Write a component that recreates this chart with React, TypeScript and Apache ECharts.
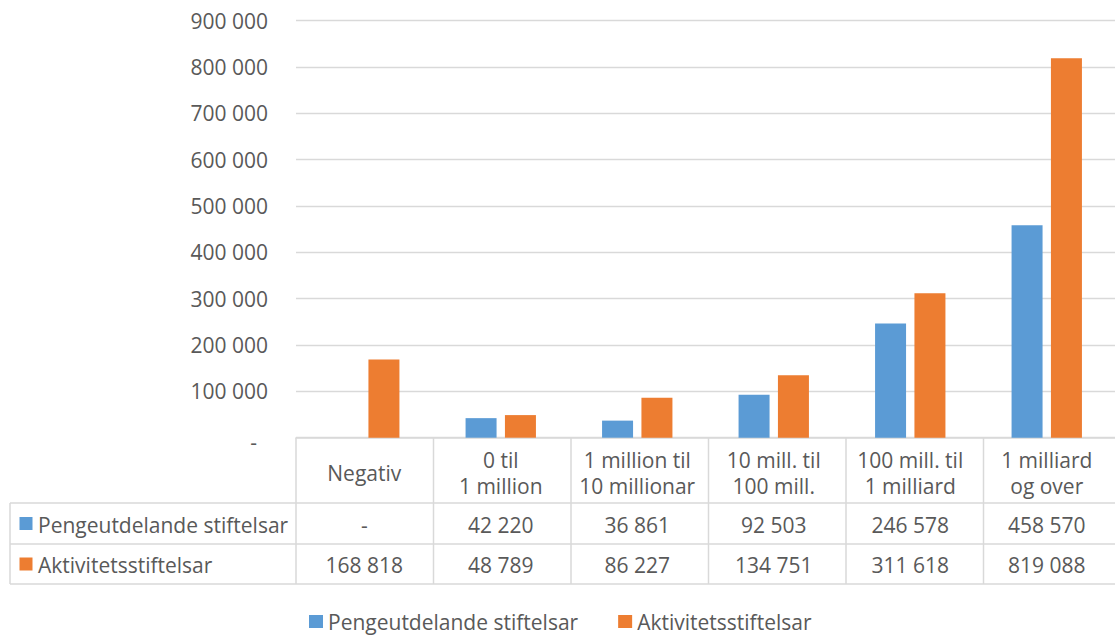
import React, { useEffect, useRef } from "react";
import * as echarts from "echarts";

const categories = [
  "Negativ",
  "0 til\n1 million",
  "1 million til\n10 millionar",
  "10 mill. til\n100 mill.",
  "100 mill. til\n1 milliard",
  "1 milliard\nog over",
];
const seriesNames = ["Pengeutdelande stiftelsar", "Aktivitetsstiftelsar"];
const pengeutdelande = [0, 42220, 36861, 92503, 246578, 458570];
const aktivitets = [168818, 48789, 86227, 134751, 311618, 819088];
const yTicks = { min: 0, max: 900000, interval: 100000 };

const BLUE = "#5b9bd5";
const ORANGE = "#ed7d31";
const TEXT = "#595959";
const LINE = "#d9d9d9";
const FONT = "'Open Sans', Lato, sans-serif";
const FS = 21;

const GRID_LEFT = 296;
const GRID_TOP = 20.7;
const GRID_W = 825;
const GRID_H = 417;
const AXIS_Y = GRID_TOP + GRID_H;
const ROW1_Y = 503;
const ROW2_Y = 544;
const TABLE_BOTTOM = 584;
const TABLE_LEFT = 10;

const fmt = (v: number | null) =>
  v === 0 || v == null ? "-" : String(v).replace(/\B(?=(\d{3})+(?!\d))/g, " ");

export default function App() {
  const ref = useRef<HTMLDivElement>(null);
  useEffect(() => {
    if (!ref.current) return;
    const chart = echarts.init(ref.current, undefined, { renderer: "svg" });
    const n = categories.length;
    const colW = GRID_W / n;
    const lineStyle = { stroke: LINE, lineWidth: 1.5 };
    const graphics: any[] = [];
    [ROW1_Y, ROW2_Y, TABLE_BOTTOM].forEach((y) =>
      graphics.push({ type: "line", shape: { x1: TABLE_LEFT, y1: y, x2: GRID_LEFT + GRID_W, y2: y }, style: lineStyle, silent: true })
    );
    graphics.push({ type: "line", shape: { x1: TABLE_LEFT, y1: ROW1_Y, x2: TABLE_LEFT, y2: TABLE_BOTTOM }, style: lineStyle, silent: true });
    for (let i = 0; i <= n; i++) {
      const x = GRID_LEFT + i * colW;
      graphics.push({ type: "line", shape: { x1: x, y1: AXIS_Y, x2: x, y2: TABLE_BOTTOM }, style: lineStyle, silent: true });
    }
    const rowCenters = [(ROW1_Y + ROW2_Y) / 2 + 1, (ROW2_Y + TABLE_BOTTOM) / 2 + 1];
    const rowColors = [BLUE, ORANGE];
    seriesNames.forEach((name, i) => {
      graphics.push({ type: "rect", shape: { x: 19.5, y: rowCenters[i] - 7.5, width: 13, height: 13 }, style: { fill: rowColors[i] }, silent: true });
      graphics.push({
        type: "text",
        x: 38,
        y: rowCenters[i],
        style: { text: name, fill: TEXT, font: `${FS}px ${FONT}`, verticalAlign: "middle", align: "left" },
        silent: true,
      });
    });

    const rowAxis = (values: number[], margin: number) => ({
      type: "category",
      data: categories,
      position: "bottom",
      gridIndex: 0,
      axisLine: { show: false },
      axisTick: { show: false },
      splitLine: { show: false },
      axisLabel: {
        interval: 0,
        margin,
        verticalAlign: "middle",
        color: TEXT,
        fontSize: FS,
        fontFamily: FONT,
        formatter: (_v: string, idx: number) => fmt(values[idx]),
      },
    });

    chart.setOption({
      animation: false,
      textStyle: { fontFamily: FONT },
      grid: { left: GRID_LEFT, top: GRID_TOP, width: GRID_W, height: GRID_H, containLabel: false },
      legend: {
        data: seriesNames,
        left: 309,
        top: 611,
        padding: 0,
        icon: "rect",
        itemWidth: 14,
        itemHeight: 13,
        itemGap: 40,
        textStyle: { color: TEXT, fontSize: FS, fontFamily: FONT, padding: [2, 0, 0, 0] },
        selectedMode: false,
      },
      xAxis: [
        {
          type: "category",
          data: categories,
          position: "bottom",
          axisLine: { show: true, lineStyle: { color: LINE, width: 1.5 } },
          axisTick: { show: false },
          axisLabel: {
            interval: 0,
            margin: 35,
            verticalAlign: "middle",
            lineHeight: 26,
            color: TEXT,
            fontSize: FS,
            fontFamily: FONT,
          },
        },
        rowAxis(pengeutdelande, 87),
        rowAxis(aktivitets, 127),
      ],
      yAxis: {
        type: "value",
        min: yTicks.min,
        max: yTicks.max,
        interval: yTicks.interval,
        axisLine: { show: false },
        axisTick: { show: false },
        splitLine: { lineStyle: { color: LINE, width: 1.3 } },
        axisLabel: {
          margin: 28,
          color: TEXT,
          fontSize: FS,
          fontFamily: FONT,
          formatter: (v: number) => (v === 0 ? "{z|-}" : fmt(v)),
          rich: { z: { padding: [8, 11, 0, 0], color: TEXT, fontSize: FS, fontFamily: FONT } },
        },
      },
      series: [
        { name: seriesNames[0], type: "bar", data: pengeutdelande, itemStyle: { color: BLUE }, barWidth: 31, barGap: "27%" },
        { name: seriesNames[1], type: "bar", data: aktivitets, itemStyle: { color: ORANGE }, barWidth: 31, barGap: "27%" },
      ],
      graphic: graphics,
    });
    return () => chart.dispose();
  }, []);
  return <div ref={ref} style={{ position: "fixed", left: 0, top: 0, width: 1115, height: 635, background: "#fff" }} />;
}
